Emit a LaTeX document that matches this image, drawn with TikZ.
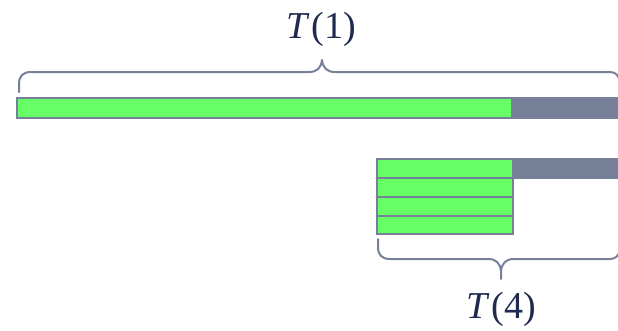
\documentclass[tikz,border=0pt]{standalone}
\usepackage{xcolor}
\usepackage{fontspec}
\setmainfont{Liberation Serif}
\definecolor{slate}{HTML}{768098}
\definecolor{work}{HTML}{66FF66}
\definecolor{ink}{HTML}{1F2A4E}
\begin{document}
\begin{tikzpicture}[x=1pt,y=-1pt,
  barline/.style={draw=slate,line width=2pt},
  busy/.style={barline,fill=work},
  idle/.style={barline,fill=slate},
  bracepath/.style={draw=slate,line width=2pt,line cap=round,line join=round},
  timelabel/.style={text=ink,font=\fontsize{38}{42}\selectfont,inner sep=0pt}]
\useasboundingbox (0,0) rectangle (618,330);

% one processor: a single long run
\draw[idle] (17,98) rectangle (625,118);
\draw[busy] (17,98) rectangle (512,118);

% brace over the sequential run
\draw[bracepath] (19,92) -- (19,84) .. controls (19,76) and (23,72) .. (31,72)
  -- (309,72) .. controls (317,72) and (321,68) .. (322,60)
  .. controls (323,68) and (327,72) .. (335,72)
  -- (610,72) .. controls (616,72) and (619,76) .. (620,82);
\node[timelabel] (t1) at (321,29) {\textit{T}\kern2pt(1)};

% four processors: four shorter runs
\draw[idle] (377,159) rectangle (625,178);
\draw[busy] (377,159) rectangle (513,178);
\draw[busy] (377,178) rectangle (513,197);
\draw[busy] (377,197) rectangle (513,216);
\draw[busy] (377,216) rectangle (513,234);

% brace under the parallel runs
\draw[bracepath] (378,239) -- (378,247) .. controls (378,255) and (382,259) .. (390,259)
  -- (488,259) .. controls (496,259) and (500,263) .. (501,271) -- (501,279);
\draw[bracepath] (501,271) .. controls (502,263) and (506,259) .. (514,259)
  -- (610,259) .. controls (616,259) and (619,255) .. (620,250);
\node[timelabel] (t4) at (501,309) {\textit{T}\kern2pt(4)};
\end{tikzpicture}
\end{document}
